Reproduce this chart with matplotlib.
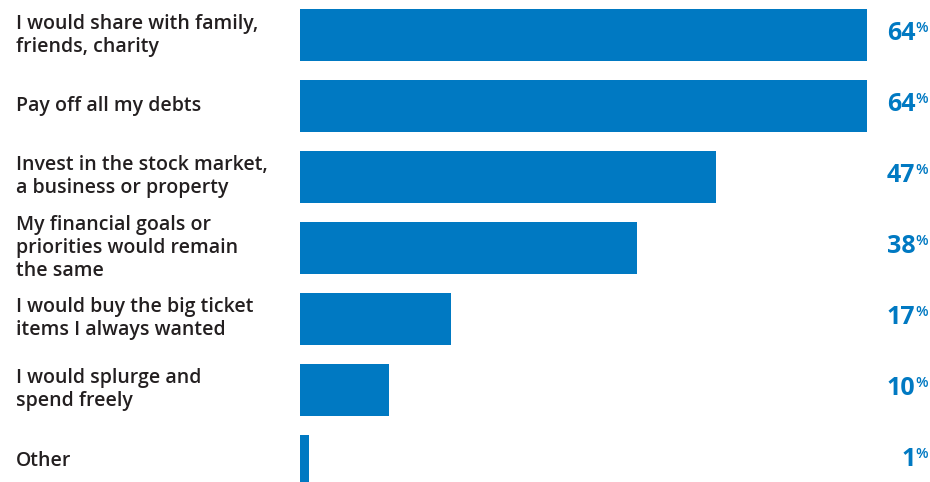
import matplotlib
matplotlib.use("Agg")
import matplotlib.pyplot as plt

categories = [
    "I would share with family,\nfriends, charity",
    "Pay off all my debts",
    "Invest in the stock market,\na business or property",
    "My financial goals or\npriorities would remain\nthe same",
    "I would buy the big ticket\nitems I always wanted",
    "I would splurge and\nspend freely",
    "Other",
]
values = [64, 64, 47, 38, 17, 10, 1]

BLUE = "#0079C2"
TEXT = "#231F20"
FONT = ["Open Sans", "DejaVu Sans"]

W, H = 930, 482
fig = plt.figure(figsize=(W / 100, H / 100), dpi=100)
ax = fig.add_axes([300 / W, 0, (867 - 300) / W, 1])
ax.set_xlim(0, 64)
ax.set_ylim(6.296, -0.493)
ax.axis("off")

ypos = list(range(len(values)))
ax.barh(ypos, values, height=0.732, color=BLUE, edgecolor="none")

renderer = fig.canvas.get_renderer()
for y, cat, v in zip(ypos, categories, values):
    ax.annotate(cat, xy=(16 / W, y), xycoords=("figure fraction", "data"),
                ha="left", va="center", fontsize=14, color=TEXT,
                family=FONT, fontweight="semibold", linespacing=1.2)
    pct = ax.annotate("%", xy=(928 / W, y), xycoords=("figure fraction", "data"),
                      xytext=(0, 3), textcoords="offset pixels",
                      ha="right", va="baseline", fontsize=10.5, color=BLUE,
                      family=FONT, fontweight="semibold")
    wpct = pct.get_window_extent(renderer).width
    ax.annotate(str(v), xy=(928 / W, y), xycoords=("figure fraction", "data"),
                xytext=(-wpct, -5), textcoords="offset pixels",
                ha="right", va="baseline", fontsize=18, color=BLUE,
                family=FONT, fontweight="bold")

fig.savefig("out.png", dpi=100)
